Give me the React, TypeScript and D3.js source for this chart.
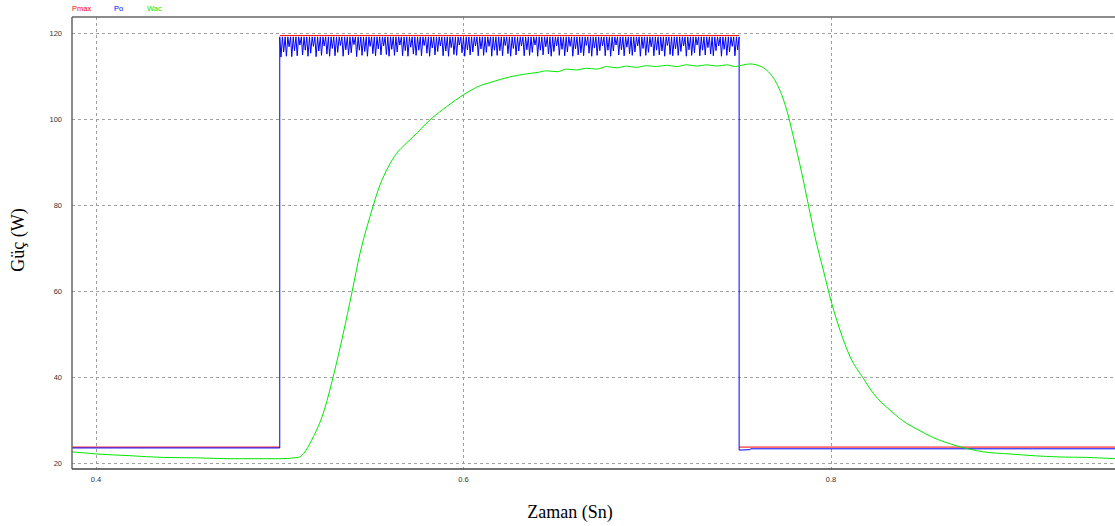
import React from "react";
import * as d3 from "d3";

const W = 1115;
const H = 526;

// Tick values
const xTicks = [0.4, 0.6, 0.8];
const yTicks = [20, 40, 60, 80, 100, 120];
const legendNames = ["Pmax", "Po", "Wac"];
const legendColors = ["#ff0000", "#0000ff", "#00e800"];

// Pmax (step) as horizontal segments
const pmaxSegT = [
  [0.387, 0.5],
  [0.5, 0.75],
  [0.75, 0.9546],
];
const pmaxSegV = [23.7, 119.4, 23.7];

// Po levels
const poLowBefore = 23.5;
const poLowAfter = 23.3;
const poHigh = 119.1;
const poStepOn = 0.5;
const poStepOff = 0.75;
// Ripple troughs during the high period (one per switching cycle)
const poTroughs = [
  114.4, 115.6, 114.6, 116.8, 114.5, 115.9, 114.7, 117.2, 114.9, 116.0,
  114.6, 115.3, 116.9, 114.5, 115.8, 114.8, 117.0, 115.1, 114.6, 116.4,
  114.7, 115.5, 117.1, 114.6, 116.1, 114.9, 115.4, 117.3, 114.5, 116.0,
  114.8, 115.7, 114.6, 116.9, 115.2, 114.7, 116.3, 114.9, 117.0, 115.0,
  114.6, 116.2, 114.8, 115.6, 117.2, 114.7, 115.9, 114.6, 116.7, 115.1,
  114.8, 116.0, 114.7, 117.1, 115.3, 114.6, 116.5, 114.9, 115.7, 117.0,
  114.7, 115.8, 114.6, 116.6, 115.0, 114.8, 117.2, 115.4, 114.6, 116.1,
  114.9, 115.6, 117.0, 114.7, 116.3, 114.8, 115.5, 116.9, 114.6, 116.0,
  114.8, 115.9, 114.7, 117.1, 115.2, 114.6, 116.4, 114.9, 115.8, 117.0,
  114.7, 116.1, 114.8, 115.5, 117.2, 114.6, 116.0, 114.9, 116.8, 115.1,
  114.6, 115.7, 117.0, 114.8, 116.2, 114.7, 115.6, 116.9, 114.6, 116.3,
  114.9, 115.4, 114.7, 117.1, 115.3, 114.6, 116.5, 114.8, 115.9, 117.0,
  114.7, 116.0, 114.6, 115.8, 117.2, 114.9, 116.1, 114.7, 116.7, 115.2,
  114.8, 115.6, 117.0, 114.6, 116.4, 114.8, 115.5, 116.8, 114.7, 116.0,
  114.9, 115.8, 114.6, 117.1, 115.0, 114.7, 116.3, 114.8, 115.7, 117.0,
  114.6, 116.1, 114.8, 115.4, 117.2, 114.7, 116.0, 114.9, 116.6, 115.1,
  114.7, 115.9, 117.0, 114.6, 116.2, 114.8, 115.6, 116.9, 114.7, 116.1,
];

// Wac (green)
const wacT = [
  0.3868, 0.4004, 0.4185, 0.4365, 0.4548, 0.4729, 0.5001, 0.5101, 0.5183, 0.5237,
  0.5291, 0.5346, 0.5392, 0.5437, 0.5491, 0.5546, 0.5590, 0.5636, 0.5680, 0.5727,
  0.5818, 0.5909, 0.5999, 0.6072, 0.6162, 0.6253, 0.6344, 0.6400, 0.6453, 0.6510,
  0.6562, 0.6615, 0.6670, 0.6725, 0.6779, 0.6835, 0.6888, 0.6940, 0.6997, 0.7050,
  0.7106, 0.7160, 0.7215, 0.7270, 0.7324, 0.7380, 0.7432, 0.7480, 0.7505, 0.7559,
  0.7614, 0.7659, 0.7704, 0.7759, 0.7795, 0.7841, 0.7877, 0.7913, 0.7958, 0.8004,
  0.8049, 0.8104, 0.8176, 0.8230, 0.8321, 0.8412, 0.8467, 0.8557, 0.8684, 0.8829,
  0.8974, 0.9101, 0.9246, 0.9392, 0.9546,
];
const wacV = [
  22.6, 22.1, 21.7, 21.3, 21.2, 21.0, 21.0, 21.3, 26.1, 31.6,
  40.1, 50.2, 59.5, 68.8, 77.3, 84.7, 88.8, 92.0, 94.0, 95.9,
  99.8, 102.9, 105.6, 107.4, 108.7, 109.8, 110.5, 110.8, 111.2, 111.0,
  111.6, 111.4, 111.8, 111.6, 112.2, 111.9, 112.3, 112.0, 112.4, 112.2,
  112.5, 112.2, 112.6, 112.3, 112.6, 112.3, 112.6, 112.2, 112.4, 112.8,
  112.3, 111.0, 108.3, 102.1, 95.9, 87.4, 80.0, 72.6, 64.9, 57.1,
  50.9, 44.7, 39.7, 36.2, 32.3, 29.2, 27.9, 25.9, 24.0, 22.6,
  22.1, 21.7, 21.4, 21.3, 21.0,
];

const plotLeft = 72;
const plotRight = 1115;
const plotTop = 17;
const plotBottom = 469;

export default function App() {
  const x = d3.scaleLinear().domain([0.4, 0.8]).range([96, 831]);
  const y = d3.scaleLinear().domain([20, 120]).range([463, 33]);

  const line = d3
    .line<[number, number]>()
    .x((d) => x(d[0]))
    .y((d) => y(d[1]));
  const smooth = d3
    .line<[number, number]>()
    .x((d) => x(d[0]))
    .y((d) => y(d[1]))
    .curve(d3.curveMonotoneX);

  const period = (poStepOff - poStepOn) / poTroughs.length;
  const poPts: [number, number][] = [
    [0.387, poLowBefore],
    [poStepOn, poLowBefore],
    [poStepOn, poHigh],
  ];
  poTroughs.forEach((v, i) => {
    const t0 = poStepOn + i * period;
    poPts.push([t0 + period * 0.45, v]);
    poPts.push([t0 + period, poHigh]);
  });
  poPts.push([poStepOff, poHigh]);
  poPts.push([poStepOff, 23.0]);
  poPts.push([0.7559, 23.1]);
  poPts.push([0.7562, poLowAfter]);
  poPts.push([0.9546, poLowAfter]);

  const wacPts: [number, number][] = wacT.map((t, i) => [t, wacV[i]]);

  return (
    <svg
      width={W}
      height={H}
      style={{ position: "absolute", left: 0, top: 0, background: "#fff" }}
      fontFamily="Arial, 'Liberation Sans', sans-serif"
    >
      <defs>
        <clipPath id="plotclip">
          <rect x={plotLeft} y={plotTop} width={plotRight - plotLeft} height={plotBottom - plotTop} />
        </clipPath>
      </defs>
      {/* legend */}
      {legendNames.map((n, i) => (
        <text key={n} x={[72, 114, 147][i]} y={11} fontSize={7.5} fill={legendColors[i]}>
          {n}
        </text>
      ))}
      {/* grid */}
      {yTicks.map((v) => (
        <line
          key={"gy" + v}
          x1={plotLeft}
          x2={plotRight}
          y1={Math.round(y(v)) + 0.5}
          y2={Math.round(y(v)) + 0.5}
          stroke="#a0a0a0"
          strokeDasharray="3,3"
        />
      ))}
      {xTicks.map((v) => (
        <line
          key={"gx" + v}
          x1={Math.round(x(v)) + 0.5}
          x2={Math.round(x(v)) + 0.5}
          y1={plotTop}
          y2={plotBottom}
          stroke="#a0a0a0"
          strokeDasharray="3,3"
        />
      ))}
      {/* tick labels */}
      {yTicks.map((v) => (
        <text key={"ty" + v} x={62} y={y(v) + 3} fontSize={7.5} fill="#333" textAnchor="end">
          {v}
        </text>
      ))}
      {xTicks.map((v) => (
        <text key={"tx" + v} x={x(v)} y={482} fontSize={7.5} fill="#333" textAnchor="middle">
          {v.toFixed(1)}
        </text>
      ))}
      {/* series */}
      <g clipPath="url(#plotclip)" fill="none">
        {pmaxSegT.map((seg, i) => (
          <path
            key={"pm" + i}
            d={line([[seg[0], pmaxSegV[i]], [seg[1], pmaxSegV[i]]]) || ""}
            stroke="#ff0000"
            strokeWidth={1}
          />
        ))}
        <path d={line(poPts) || ""} stroke="#0000ff" strokeWidth={1} />
        <path d={smooth(wacPts) || ""} stroke="#00e800" strokeWidth={1} />
      </g>
      {/* frame */}
      <line x1={plotLeft} x2={plotLeft} y1={plotTop} y2={plotBottom} stroke="#666" strokeWidth={1.5} />
      <line x1={plotLeft} x2={plotRight} y1={plotTop} y2={plotTop} stroke="#666" strokeWidth={1.5} />
      <line x1={plotLeft} x2={plotRight} y1={plotBottom} y2={plotBottom} stroke="#444" strokeWidth={1.5} />
      {/* axis titles */}
      <text
        transform={`translate(24, 240) rotate(-90)`}
        textAnchor="middle"
        fontFamily="'Liberation Serif', 'Times New Roman', serif"
        fontSize={18}
        fill="#000"
      >
        Güç (W)
      </text>
      <text
        x={570}
        y={518}
        textAnchor="middle"
        fontFamily="'Liberation Serif', 'Times New Roman', serif"
        fontSize={18}
        fill="#000"
      >
        Zaman (Sn)
      </text>
    </svg>
  );
}
